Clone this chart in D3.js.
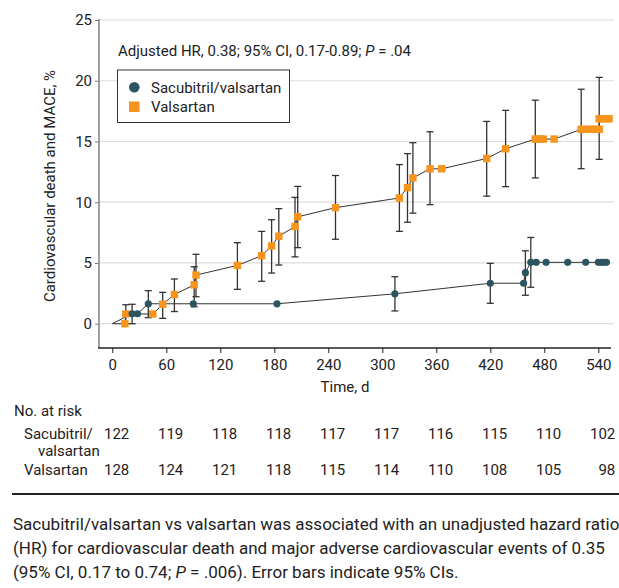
<!DOCTYPE html>
<html>
<head>
<meta charset="utf-8">
<script src="https://cdn.jsdelivr.net/npm/d3@7"></script>
<style>
  body { margin: 0; background: #fff; }
  svg text { font-family: Roboto, "Liberation Sans", sans-serif; fill: #222; }
</style>
</head>
<body>
<div id="chart"></div>
<script>
// sacubitril/valsartan series
let sacDays = [22, 28, 40, 90, 183, 314, 420, 457, 459, 465, 471, 482, 506, 526, 540, 543, 546, 549];
let sacPct  = [0.82, 0.82, 1.64, 1.64, 1.64, 2.46, 3.33, 3.33, 4.2, 5.05, 5.05, 5.05, 5.05, 5.05, 5.05, 5.05, 5.05, 5.05];
let sacLow  = [0, null, 0.5, null, null, 1.05, 1.68, null, 2.34, 3.0, null, null, null, null, null, null, null, null];
let sacHigh = [1.6, null, 2.72, null, null, 3.87, 4.97, null, 6.0, 7.1, null, null, null, null, null, null, null, null];

// valsartan series
let valDays = [14, 15, 45, 56, 69, 91, 93, 139, 166, 177, 185, 203, 206, 248, 319, 328, 334, 353, 366, 416, 437,
               470, 473, 476, 479, 491, 521, 525, 529, 533, 537, 541, 541, 545, 549, 552];
let valPct  = [0, 0.8, 0.8, 1.6, 2.4, 3.2, 4.0, 4.8, 5.6, 6.4, 7.2, 8.0, 8.8, 9.55, 10.35, 11.2, 12.0, 12.75, 12.75, 13.6, 14.4,
               15.2, 15.2, 15.2, 15.2, 15.2, 16.0, 16.0, 16.0, 16.0, 16.0, 16.0, 16.87, 16.87, 16.87, 16.87];
let valLow  = [null, 0, null, 0.44, 1.0, 1.4, 2.22, 2.83, 3.49, 4.17, 4.83, 5.5, 6.26, 6.95, 7.6, 8.35, 9.1, 9.8, null, 10.5, 11.28,
               12.0, null, null, null, null, 12.76, null, null, null, null, null, 13.53, null, null, null];
let valHigh = [null, 1.56, null, 2.58, 3.68, 4.69, 5.71, 6.67, 7.6, 8.56, 9.47, 10.4, 11.3, 12.2, 13.1, 14.0, 14.9, 15.8, null, 16.65, 17.56,
               18.4, null, null, null, null, 19.3, null, null, null, null, null, 20.28, null, null, null];

let xTicks = [0, 60, 120, 180, 240, 300, 360, 420, 480, 540];
let yTicks = [0, 5, 10, 15, 20, 25];

let riskLabels = ["Sacubitril/valsartan", "Valsartan"];
let riskSac = [122, 119, 118, 118, 117, 117, 116, 115, 110, 102];
let riskVal = [128, 124, 121, 118, 115, 114, 110, 108, 105, 98];

let captionLines = [
  "Sacubitril/valsartan vs valsartan was associated with an unadjusted hazard ratio",
  "(HR) for cardiovascular death and major adverse cardiovascular events of 0.35",
  "(95% CI, 0.17 to 0.74; P = .006). Error bars indicate 95% CIs."
];

let w = 619;
let h = 588;
let sacColor = "#2d5461";
let valColor = "#f7941d";

let svg = d3.select("#chart").append("svg")
  .attr("width", w)
  .attr("height", h);

let x = d3.scaleLinear().domain([0, 540]).range([112.3, 598.3]);
let y = d3.scaleLinear().domain([0, 25]).range([323.7, 20]);

// gridlines
svg.append("g").selectAll("line").data(yTicks).enter()
  .append("line")
    .attr("x1", 99).attr("x2", 614)
    .attr("y1", d => y(d)).attr("y2", d => y(d))
    .attr("stroke", "#dcdcdc")
    .attr("stroke-width", 1.2);

// y axis
let yAxis = svg.append("g")
  .attr("transform", "translate(99,0)")
  .call(d3.axisLeft(y).tickValues(yTicks).tickSize(4).tickPadding(3));
yAxis.select(".domain").remove();
yAxis.selectAll(".tick line").attr("stroke", "#777");
yAxis.selectAll(".tick text").style("font-size", "15px").attr("fill", "#333");
svg.append("line")
  .attr("x1", 99).attr("x2", 99)
  .attr("y1", 19).attr("y2", 348)
  .attr("stroke", "#888")
  .attr("stroke-width", 1.6);

// x axis
let xAxis = svg.append("g")
  .attr("transform", "translate(0,348)")
  .call(d3.axisBottom(x).tickValues(xTicks).tickSize(5).tickPadding(6));
xAxis.select(".domain").remove();
xAxis.selectAll(".tick line").attr("stroke", "#222");
xAxis.selectAll(".tick text").style("font-size", "15px").attr("fill", "#333");
svg.append("line")
  .attr("x1", 98).attr("x2", 611)
  .attr("y1", 348).attr("y2", 348)
  .attr("stroke", "#222")
  .attr("stroke-width", 1.6);

svg.append("text")
  .attr("x", 345).attr("y", 392)
  .attr("text-anchor", "middle")
  .style("font-size", "15px")
  .text("Time, d");

svg.append("text")
  .attr("transform", "translate(55,186) rotate(-90)")
  .attr("text-anchor", "middle")
  .style("font-size", "15px")
  .text("Cardiovascular death and MACE, %");

// adjusted HR note
let note = svg.append("text")
  .attr("x", 118).attr("y", 56)
  .style("font-size", "15px");
note.append("tspan").text("Adjusted HR, 0.38; 95% CI, 0.17-0.89; ");
note.append("tspan").style("font-style", "italic").text("P");
note.append("tspan").text(" = .04");

// legend
svg.append("rect")
  .attr("x", 117.5).attr("y", 70)
  .attr("width", 172).attr("height", 52.5)
  .attr("fill", "#fff")
  .attr("stroke", "#333")
  .attr("stroke-width", 1);
svg.append("circle")
  .attr("cx", 134.3).attr("cy", 87.3).attr("r", 5.3)
  .attr("fill", sacColor);
svg.append("rect")
  .attr("x", 129).attr("y", 101.5)
  .attr("width", 10.5).attr("height", 10.5)
  .attr("fill", valColor);
svg.append("text").attr("x", 151).attr("y", 92.5).style("font-size", "15px").text("Sacubitril/valsartan");
svg.append("text").attr("x", 151).attr("y", 111.8).style("font-size", "15px").text("Valsartan");

// build point objects
function makePoints(days, pct, low, high){
  return days.map(function(d, i){
    return { day: d, pct: pct[i], low: low[i], high: high[i] };
  });
}
let sacData = makePoints(sacDays, sacPct, sacLow, sacHigh);
let valData = makePoints(valDays, valPct, valLow, valHigh);

let line = d3.line()
  .x(d => x(d.day))
  .y(d => y(d.pct));

// both curves start at the origin
let origin = { day: 0, pct: 0 };

svg.append("path")
  .datum([origin].concat(valData))
  .attr("d", line)
  .attr("fill", "none")
  .attr("stroke", "#333")
  .attr("stroke-width", 1);
svg.append("path")
  .datum([origin].concat(sacData))
  .attr("d", line)
  .attr("fill", "none")
  .attr("stroke", "#333")
  .attr("stroke-width", 1);

// error bars
function drawBars(data){
  let bars = svg.append("g").selectAll("g")
    .data(data.filter(d => d.low !== null)).enter()
    .append("g")
      .attr("stroke", "#333")
      .attr("stroke-width", 1.3);
  bars.append("line")
    .attr("x1", d => x(d.day)).attr("x2", d => x(d.day))
    .attr("y1", d => y(d.low)).attr("y2", d => y(d.high));
  bars.append("line")
    .attr("x1", d => x(d.day) - 3.5).attr("x2", d => x(d.day) + 3.5)
    .attr("y1", d => y(d.low)).attr("y2", d => y(d.low));
  bars.append("line")
    .attr("x1", d => x(d.day) - 3.5).attr("x2", d => x(d.day) + 3.5)
    .attr("y1", d => y(d.high)).attr("y2", d => y(d.high));
}
drawBars(valData);
drawBars(sacData);

// markers
svg.append("g").selectAll("rect")
  .data(valData).enter()
  .append("rect")
    .attr("x", d => x(d.day) - 3.7)
    .attr("y", d => y(d.pct) - 3.7)
    .attr("width", 7.4)
    .attr("height", 7.4)
    .attr("fill", valColor);

svg.append("g").selectAll("circle")
  .data(sacData).enter()
  .append("circle")
    .attr("cx", d => x(d.day))
    .attr("cy", d => y(d.pct))
    .attr("r", 3.6)
    .attr("fill", sacColor);

// number at risk table
svg.append("text").attr("x", 14).attr("y", 416).style("font-size", "15px").text("No. at risk");
svg.append("text").attr("x", 24).attr("y", 439).style("font-size", "15px").text("Sacubitril/");
svg.append("text").attr("x", 38).attr("y", 456).style("font-size", "15px").text("valsartan");
svg.append("text").attr("x", 24).attr("y", 475).style("font-size", "15px").text(riskLabels[1]);

function riskRow(values, yPos){
  svg.append("g").selectAll("text")
    .data(values).enter()
    .append("text")
      .attr("x", (d, i) => x(xTicks[i]) + 17)
      .attr("y", yPos)
      .attr("text-anchor", "end")
      .style("font-size", "15px")
      .text(d => d);
}
riskRow(riskSac, 439);
riskRow(riskVal, 475);

// separator and caption
svg.append("line")
  .attr("x1", 12).attr("x2", 619)
  .attr("y1", 494).attr("y2", 494)
  .attr("stroke", "#222")
  .attr("stroke-width", 2);

captionLines.forEach(function(txt, i){
  let t = svg.append("text")
    .attr("x", 13)
    .attr("y", 530 + i * 24)
    .style("font-size", "17px");
  if (txt.indexOf("P =") >= 0){
    let parts = txt.split("P =");
    t.append("tspan").text(parts[0]);
    t.append("tspan").style("font-style", "italic").text("P");
    t.append("tspan").text(" =" + parts[1]);
  } else {
    t.text(txt);
  }
});
</script>
</body>
</html>
